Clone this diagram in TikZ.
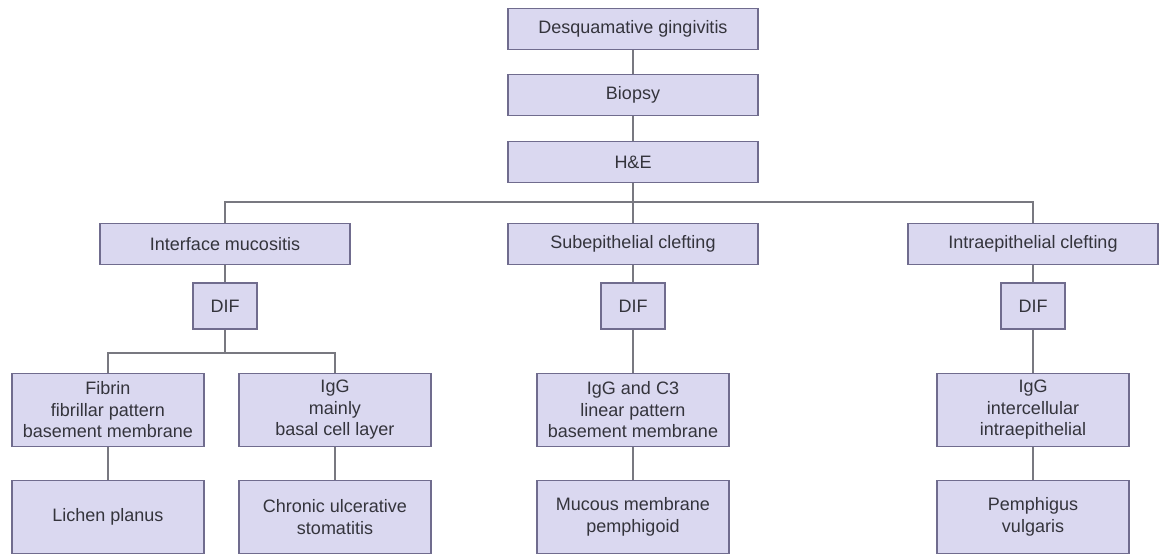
\documentclass[tikz,border=0pt]{standalone}
\usepackage{fontspec}
\setmainfont{Liberation Sans}
\begin{document}
\definecolor{boxfill}{RGB}{218,216,240}
\definecolor{boxline}{RGB}{112,108,142}
\definecolor{wire}{RGB}{120,120,128}
\definecolor{ink}{RGB}{52,52,60}
\begin{tikzpicture}[x=1pt,y=-1pt,
  box/.style={draw=boxline,line width=1.3pt,fill=boxfill,text=ink,
    font=\fontsize{18}{21.5}\selectfont,align=center,inner sep=0pt},
  wide/.style={box,minimum width=250pt,minimum height=41pt},
  small/.style={box,minimum width=64pt,minimum height=46pt},
  leaf/.style={box,minimum width=192pt,minimum height=73pt},
  wire/.style={draw=wire,line width=1.3pt}]
\useasboundingbox (0,0) rectangle (1160,556);
% trunk
\node[wide] (dg)  at (633,29)  {Desquamative gingivitis};
\node[wide] (bio) at (633,95)  {Biopsy};
\node[wide] (he)  at (633,162) {H\&E};
% histology
\node[wide] (im) at (225,244)  {Interface mucositis};
\node[wide] (sc) at (633,244)  {Subepithelial clefting};
\node[wide] (ic) at (1033,244) {Intraepithelial clefting};
% immunofluorescence
\node[small] (dif1) at (225,306)  {DIF};
\node[small] (dif2) at (633,306)  {DIF};
\node[small] (dif3) at (1033,306) {DIF};
% findings
\node[leaf] (fib)  at (108,410)  {Fibrin\\fibrillar pattern\\basement membrane};
\node[leaf] (igg1) at (335,410)  {IgG\\mainly\\basal cell layer};
\node[leaf] (igg2) at (633,410)  {IgG and C3\\linear pattern\\basement membrane};
\node[leaf] (igg3) at (1033,410) {IgG\\intercellular\\intraepithelial};
% diagnoses
\node[leaf] (lp)  at (108,517)  {Lichen planus};
\node[leaf] (cus) at (335,517)  {Chronic ulcerative\\stomatitis};
\node[leaf] (mmp) at (633,517)  {Mucous membrane\\pemphigoid};
\node[leaf] (pv)  at (1033,517) {Pemphigus\\vulgaris};
% junction points
\coordinate (bar)  at (633,202);
\coordinate (lbar) at (225,353);
% connectors
\draw[wire] (dg) -- (bio);
\draw[wire] (bio) -- (he);
\draw[wire] (he) -- (sc);
\draw[wire] (im.north) |- (bar) -| (ic.north);
\draw[wire] (im) -- (dif1);
\draw[wire] (sc) -- (dif2);
\draw[wire] (ic) -- (dif3);
\draw[wire] (dif1.south) -- (lbar);
\draw[wire] (fib.north) |- (lbar) -| (igg1.north);
\draw[wire] (dif2) -- (igg2);
\draw[wire] (dif3) -- (igg3);
\draw[wire] (fib) -- (lp);
\draw[wire] (igg1) -- (cus);
\draw[wire] (igg2) -- (mmp);
\draw[wire] (igg3) -- (pv);
\end{tikzpicture}
\end{document}
